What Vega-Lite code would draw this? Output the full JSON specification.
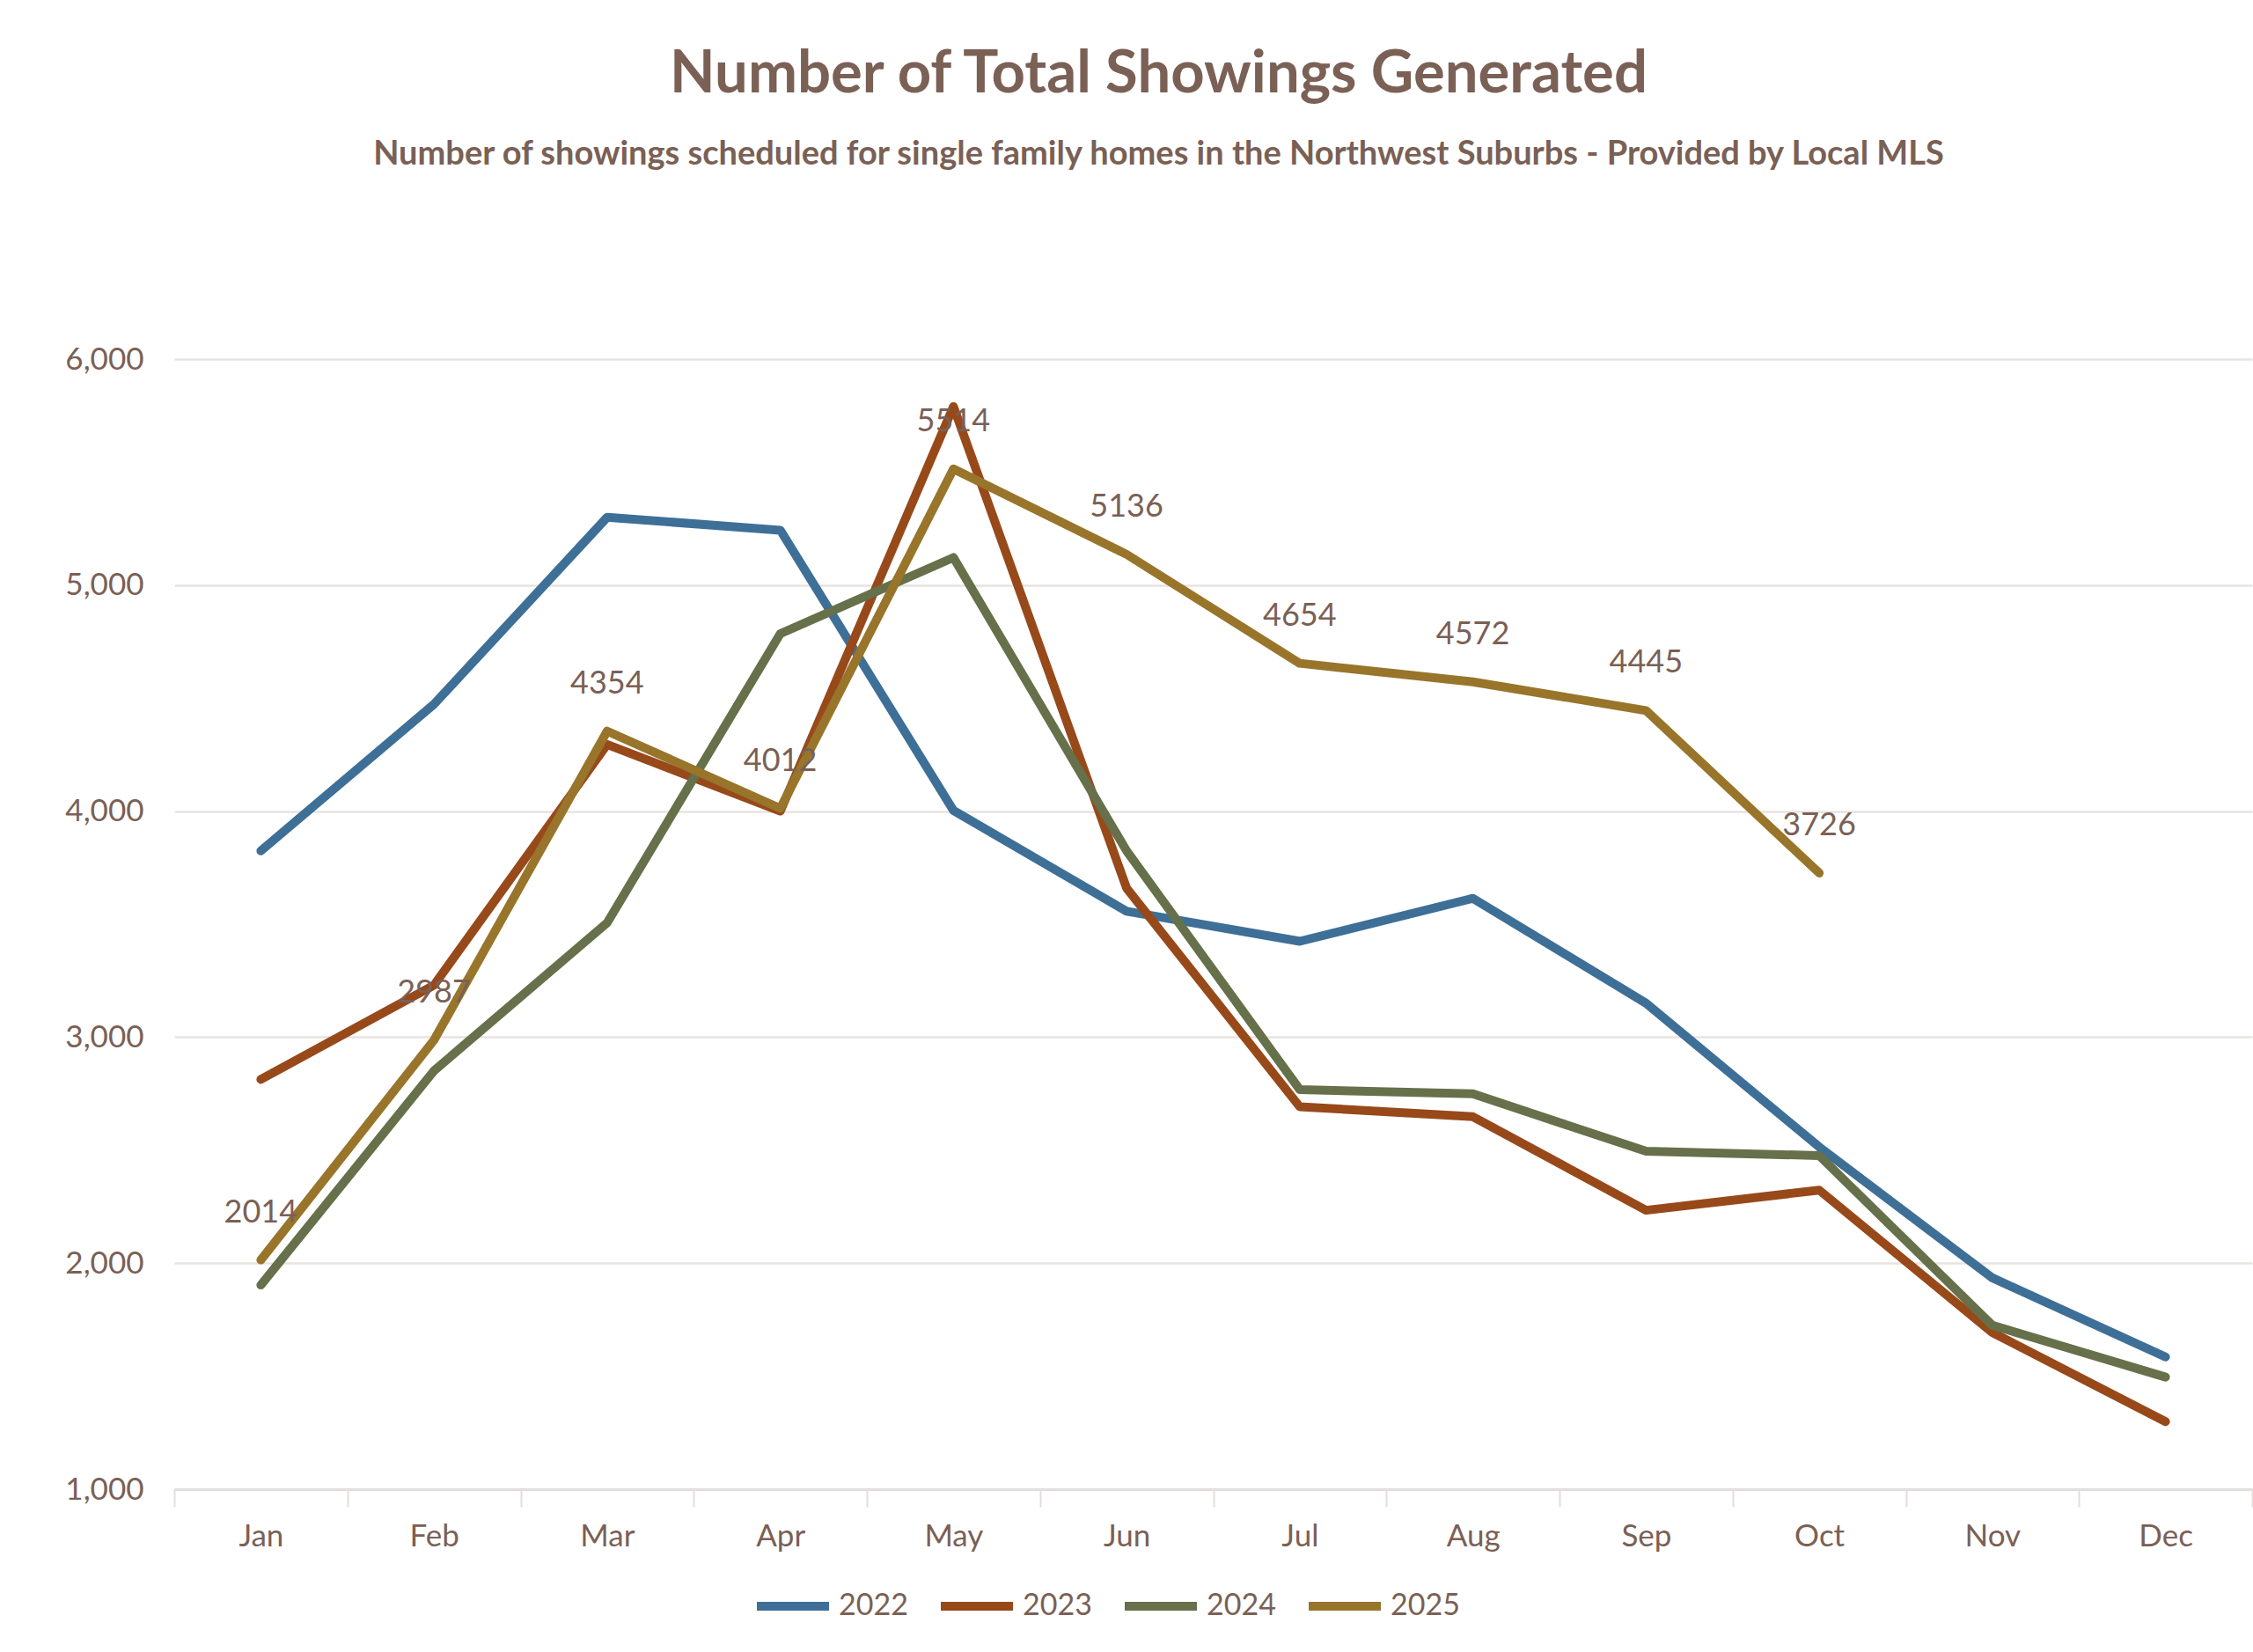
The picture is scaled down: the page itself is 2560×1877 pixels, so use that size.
{
  "$schema": "https://vega.github.io/schema/vega-lite/v6.json",
  "width": 2361,
  "height": 1284,
  "autosize": {"type": "none"},
  "padding": {"left": 198, "top": 408, "right": 1, "bottom": 185},
  "background": "white",
  "title": {
    "text": "Number of Total Showings Generated",
    "subtitle": "Number of showings scheduled for single family homes  in the Northwest Suburbs - Provided by Local MLS",
    "anchor": "middle",
    "frame": "group",
    "dx": -62,
    "offset": 195,
    "font": "Lato",
    "fontSize": 67,
    "fontWeight": "bold",
    "color": "#7a6055",
    "subtitleFont": "Lato",
    "subtitleFontSize": 38,
    "subtitleFontWeight": "bold",
    "subtitleColor": "#7a6055",
    "subtitlePadding": 38
  },
  "data": {
    "values": [
      {"year": "2022", "month": "Jan", "value": 3824},
      {"year": "2022", "month": "Feb", "value": 4473},
      {"year": "2022", "month": "Mar", "value": 5300},
      {"year": "2022", "month": "Apr", "value": 5243},
      {"year": "2022", "month": "May", "value": 4003},
      {"year": "2022", "month": "Jun", "value": 3557},
      {"year": "2022", "month": "Jul", "value": 3424},
      {"year": "2022", "month": "Aug", "value": 3614},
      {"year": "2022", "month": "Sep", "value": 3150},
      {"year": "2022", "month": "Oct", "value": 2514},
      {"year": "2022", "month": "Nov", "value": 1935},
      {"year": "2022", "month": "Dec", "value": 1585},
      {"year": "2023", "month": "Jan", "value": 2813},
      {"year": "2023", "month": "Feb", "value": 3230},
      {"year": "2023", "month": "Mar", "value": 4295},
      {"year": "2023", "month": "Apr", "value": 4000},
      {"year": "2023", "month": "May", "value": 5790},
      {"year": "2023", "month": "Jun", "value": 3659},
      {"year": "2023", "month": "Jul", "value": 2692},
      {"year": "2023", "month": "Aug", "value": 2648},
      {"year": "2023", "month": "Sep", "value": 2234},
      {"year": "2023", "month": "Oct", "value": 2323},
      {"year": "2023", "month": "Nov", "value": 1693},
      {"year": "2023", "month": "Dec", "value": 1299},
      {"year": "2024", "month": "Jan", "value": 1903},
      {"year": "2024", "month": "Feb", "value": 2851},
      {"year": "2024", "month": "Mar", "value": 3506},
      {"year": "2024", "month": "Apr", "value": 4785},
      {"year": "2024", "month": "May", "value": 5122},
      {"year": "2024", "month": "Jun", "value": 3824},
      {"year": "2024", "month": "Jul", "value": 2768},
      {"year": "2024", "month": "Aug", "value": 2749},
      {"year": "2024", "month": "Sep", "value": 2495},
      {"year": "2024", "month": "Oct", "value": 2476},
      {"year": "2024", "month": "Nov", "value": 1725},
      {"year": "2024", "month": "Dec", "value": 1496},
      {"year": "2025", "month": "Jan", "value": 2014},
      {"year": "2025", "month": "Feb", "value": 2987},
      {"year": "2025", "month": "Mar", "value": 4354},
      {"year": "2025", "month": "Apr", "value": 4012},
      {"year": "2025", "month": "May", "value": 5514},
      {"year": "2025", "month": "Jun", "value": 5136},
      {"year": "2025", "month": "Jul", "value": 4654},
      {"year": "2025", "month": "Aug", "value": 4572},
      {"year": "2025", "month": "Sep", "value": 4445},
      {"year": "2025", "month": "Oct", "value": 3726}
    ]
  },
  "encoding": {
    "x": {
      "field": "month",
      "type": "ordinal",
      "sort": ["Jan", "Feb", "Mar", "Apr", "May", "Jun", "Jul", "Aug", "Sep", "Oct", "Nov", "Dec"],
      "bandPosition": 0.5,
      "scale": {"type": "band", "paddingInner": 0, "paddingOuter": 0},
      "axis": {
        "title": null,
        "labelAngle": 0,
        "labelFont": "Lato",
        "labelFontSize": 35,
        "labelColor": "#7a6055",
        "labelPadding": 16,
        "domainColor": "#e3dedb",
        "domainWidth": 3,
        "tickColor": "#e3dedb",
        "tickWidth": 2,
        "tickSize": 20,
        "tickBand": "extent",
        "grid": false
      }
    },
    "y": {
      "field": "value",
      "type": "quantitative",
      "scale": {"domain": [1000, 6000], "nice": false, "zero": false},
      "axis": {
        "title": null,
        "values": [1000, 2000, 3000, 4000, 5000, 6000],
        "format": ",.0f",
        "labelFont": "Lato",
        "labelFontSize": 35,
        "labelColor": "#7a6055",
        "labelPadding": 35,
        "domain": false,
        "ticks": false,
        "grid": true,
        "gridColor": "#e8e3e1",
        "gridWidth": 2.5
      }
    }
  },
  "layer": [
    {
      "mark": {"type": "line", "strokeWidth": 10, "strokeCap": "round", "strokeJoin": "round"},
      "encoding": {
        "color": {
          "field": "year",
          "type": "nominal",
          "scale": {"domain": ["2022", "2023", "2024", "2025"], "range": ["#3e6f97", "#98491a", "#66704a", "#98752a"]},
          "legend": {
            "title": null,
            "orient": "none",
            "direction": "horizontal",
            "legendX": 657,
            "legendY": 1371,
            "symbolType": "stroke",
            "symbolSize": 6724,
            "symbolStrokeWidth": 10,
            "labelFont": "Lato",
            "labelFontSize": 34,
            "labelColor": "#7a6055",
            "labelOffset": 6,
            "columnPadding": 17
          }
        }
      }
    },
    {
      "transform": [{"filter": "datum.year === '2025'"}],
      "mark": {"type": "text", "font": "Lato", "fontSize": 36, "color": "#7a6055", "dy": -54, "baseline": "middle"},
      "encoding": {"text": {"field": "value", "type": "quantitative", "format": "d"}}
    }
  ],
  "config": {"view": {"stroke": null}}
}
